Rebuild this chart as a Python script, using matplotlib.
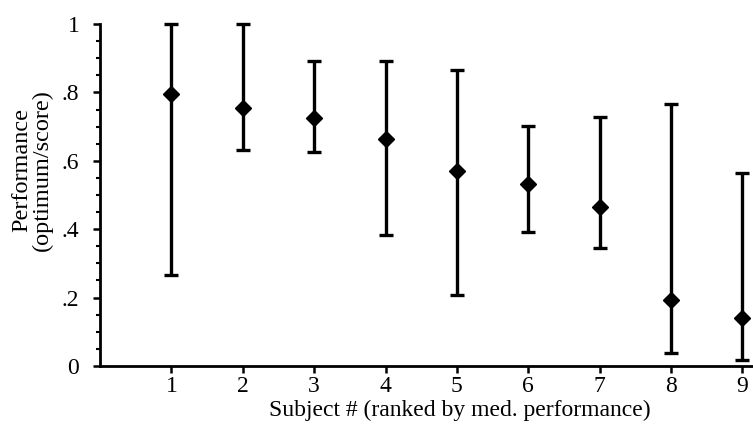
import numpy as np
import matplotlib.pyplot as plt
from matplotlib.ticker import MultipleLocator

plt.rcParams['font.family'] = ['Liberation Serif', 'DejaVu Serif']

# median performance per subject, with the low/high ends of each bar
subjects = [1, 2, 3, 4, 5, 6, 7, 8, 9]
median = [0.794, 0.753, 0.724, 0.665, 0.571, 0.531, 0.466, 0.193, 0.141]
low = [0.265, 0.632, 0.626, 0.382, 0.208, 0.393, 0.345, 0.037, 0.018]
high = [1.0, 1.0, 0.892, 0.892, 0.866, 0.703, 0.727, 0.765, 0.563]

y_ticks = [0, 0.2, 0.4, 0.6, 0.8, 1.0]
y_ticklabels = ['0', '.2', '.4', '.6', '.8', '1']

med = np.array(median)
yerr = [med - np.array(low), np.array(high) - med]

fig = plt.figure(figsize=(7.53, 4.29), dpi=100)
ax = fig.add_axes([0.133, 0.147, 0.867, 0.797])

ax.errorbar(subjects, median, yerr=yerr, fmt='D', color='black',
            markersize=8.5, elinewidth=2.4, capsize=4.8, capthick=2.4,
            clip_on=False)

ax.set_xlim(0, 9.15)
ax.set_ylim(0, 1)
ax.set_xticks(subjects)
ax.set_yticks(y_ticks)
ax.set_yticklabels(y_ticklabels)
ax.yaxis.set_minor_locator(MultipleLocator(0.05))

ax.spines['top'].set_visible(False)
ax.spines['right'].set_visible(False)
ax.spines['left'].set_linewidth(2.0)
ax.spines['bottom'].set_linewidth(2.0)
ax.tick_params(axis='both', which='major', labelsize=17, width=1.8, length=5)
ax.tick_params(axis='y', which='minor', width=1.5, length=3)
ax.tick_params(axis='x', pad=2)
ax.tick_params(axis='y', pad=10)

ax.set_xlabel('Subject # (ranked by med. performance)', fontsize=17)
ax.xaxis.set_label_coords(0.551, -0.1)
ax.set_ylabel('Performance\n(optimum/score)', fontsize=17.5, linespacing=1.0)
ax.yaxis.set_label_coords(-0.072, 0.573)

fig.savefig('out.png', dpi=100)
